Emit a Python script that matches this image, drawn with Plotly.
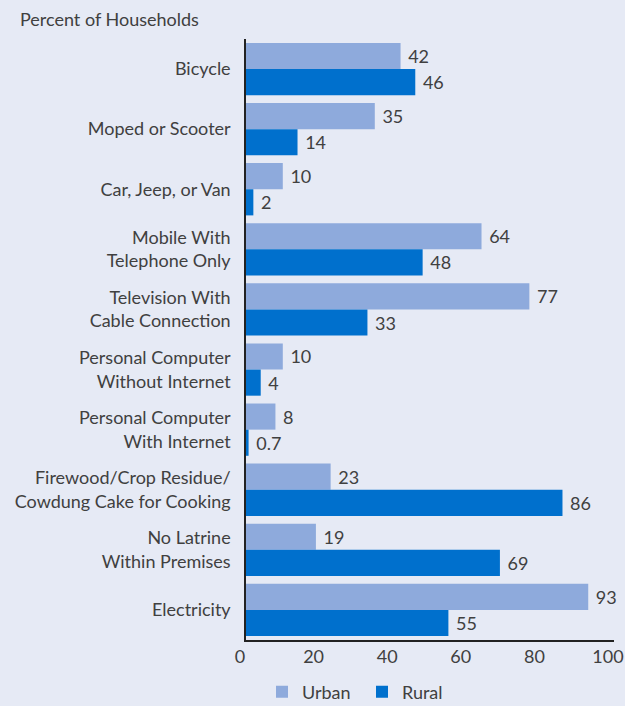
import plotly.graph_objects as go

categories = ["Bicycle", "Moped or Scooter", "Car, Jeep, or Van",
              "Mobile With<br>Telephone Only", "Television With<br>Cable Connection",
              "Personal Computer<br>Without Internet", "Personal Computer<br>With Internet",
              "Firewood/Crop Residue/<br>Cowdung Cake for Cooking",
              "No Latrine<br>Within Premises", "Electricity"]
urban = [42, 35, 10, 64, 77, 10, 8, 23, 19, 93]
rural = [46, 14, 2, 48, 33, 4, 0.7, 86, 69, 55]
urban_text = ["42", "35", "10", "64", "77", "10", "8", "23", "19", "93"]
rural_text = ["46", "14", "2", "48", "33", "4", "0.7", "86", "69", "55"]
x_ticks = [0, 20, 40, 60, 80, 100]

FONT = "Lato, Open Sans, sans-serif"
TXT = "#404040"

L, R, T, B = 246, 11, 39, 66
PW = 625 - L - R
PH = 706 - T - B

fig = go.Figure()
fig.add_trace(go.Bar(y=categories, x=urban, name="Urban", orientation="h",
                     marker=dict(color="#8eaadc", line=dict(width=0)),
                     text=urban_text, texttemplate="\u00a0%{text}",
                     textposition="outside", cliponaxis=False,
                     textfont=dict(size=18, color=TXT, family=FONT)))
fig.add_trace(go.Bar(y=categories, x=rural, name="Rural", orientation="h",
                     marker=dict(color="#0070cd", line=dict(width=0)),
                     text=rural_text, texttemplate="\u00a0%{text}",
                     textposition="outside", cliponaxis=False,
                     textfont=dict(size=18, color=TXT, family=FONT)))

fig.update_layout(
    width=625, height=706,
    paper_bgcolor="#e6eaf5", plot_bgcolor="#e6eaf5",
    margin=dict(l=L, r=R, t=T, b=B, autoexpand=False),
    barmode="group", bargap=0.13, bargroupgap=0,
    font=dict(family=FONT, color=TXT, size=18),
    showlegend=True,
    legend=dict(orientation="h", x=(262 - L) / PW, y=-(692 - (T + PH)) / PH,
                xanchor="left", yanchor="middle",
                font=dict(size=18, color=TXT, family=FONT), itemwidth=30,
                entrywidth=55, entrywidthmode="pixels",
                traceorder="normal", bgcolor="rgba(0,0,0,0)"),
    annotations=[dict(text="Percent of Households", xref="paper", yref="paper",
                      x=(18 - L) / PW, y=1 + 20 / PH, xanchor="left", yanchor="middle",
                      showarrow=False, font=dict(size=18, color=TXT, family=FONT))],
)
fig.update_xaxes(range=[0, 100], tickvals=x_ticks, showgrid=False, zeroline=False,
                 showline=True, linecolor="#222", linewidth=1.5,
                 ticklabeloverflow="allow", ticklabelshift=-6, automargin=False,
                 tickfont=dict(size=18, color=TXT, family=FONT), ticks="", ticklen=0)
fig.update_yaxes(autorange="reversed", showgrid=False, zeroline=False,
                 showline=True, linecolor="#222", linewidth=1.5, ticks="",
                 ticklabelstandoff=10, automargin=False,
                 tickfont=dict(size=18, color=TXT, family=FONT))

fig.write_html("out.html", config={"displayModeBar": False},
               post_script="document.body.style.margin='0';document.body.style.overflow='hidden';")
